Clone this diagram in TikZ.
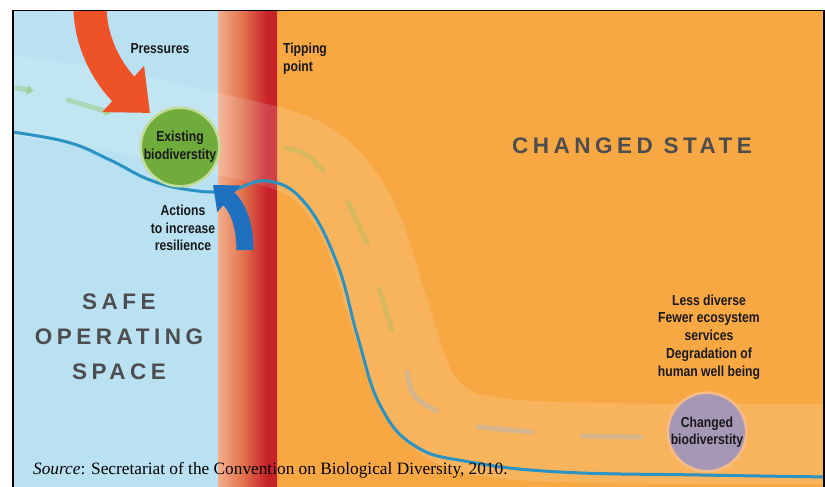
\documentclass[tikz,border=0pt]{standalone}
\usepackage{fontspec}
\setmainfont{Liberation Serif}
\newfontfamily\labelfont[FakeStretch=0.84]{Liberation Sans Bold}
\newfontfamily\statefont[LetterSpace=20]{Liberation Sans Bold}
\usetikzlibrary{arrows.meta}
\definecolor{safeblue}{HTML}{B9E1F1}
\definecolor{changedorange}{HTML}{F8A843}
\definecolor{bandpale}{HTML}{F4AE8C}
\definecolor{bandmid}{HTML}{E27650}
\definecolor{bandred}{HTML}{C8232B}
\definecolor{curveblue}{HTML}{2B92C4}
\definecolor{pressred}{HTML}{EE5327}
\definecolor{actionblue}{HTML}{1F70BE}
\definecolor{biogreen}{HTML}{70AC3B}
\definecolor{biohalo}{HTML}{C2DC9A}
\definecolor{biopurple}{HTML}{A797B6}
\definecolor{purplehalo}{HTML}{F6BC88}
\definecolor{stategrey}{HTML}{4D4D4F}
\definecolor{dashgreen}{HTML}{8FC870}
\definecolor{dasholive}{HTML}{B0BE58}
\definecolor{dashgrey}{HTML}{AEB6C6}
\pgfdeclarehorizontalshading{tipband}{100bp}{color(0bp)=(bandpale); color(25bp)=(bandpale); color(45bp)=(bandmid); color(66bp)=(bandred); color(75bp)=(bandred); color(100bp)=(bandred)}
\tikzset{
  label text/.style={font=\labelfont\fontsize{14.5}{17.5}\selectfont, align=center, text=black!90},
  state text/.style={font=\statefont\fontsize{22.5}{35}\selectfont, align=center, text=stategrey},
  biocircle/.style={circle, minimum size=76pt, inner sep=0pt, line width=2.5pt, label text},
  flowdash/.style={line width=5pt, line cap=round, opacity=0.45},
}
\begin{document}
\begin{tikzpicture}[x=1pt, y=-1pt]
\useasboundingbox (0,0) rectangle (825,487);
\begin{scope}
\clip (13,10.5) rectangle (824,487);
\fill[safeblue] (13,10) rectangle (218,487);
\fill[changedorange] (218,10) rectangle (824,487);
\shade[shading=tipband] (218,10) rectangle (277,487);
\draw[white, opacity=0.14, line width=80pt] plot[smooth, tension=0.6] coordinates {(0,94) (110,110) (200,130) (283,150) (325,174) (360,224) (388,308) (414,385) (448,424) (500,438) (600,443) (840,444)};
\draw[flowdash, dashgreen, -{Triangle[length=7pt,width=10pt]}] (17,88) -- (34,91);
\draw[flowdash, dashgreen, -{Triangle[length=7pt,width=10pt]}] (68,100) -- (112,113);
\draw[flowdash, dasholive] (285,148) .. controls (305,152) .. (323,170);
\draw[flowdash, dasholive] (348,202) -- (367,243);
\draw[flowdash, dasholive] (379,289) -- (392,330);
\draw[flowdash, dashgrey] (407,372) .. controls (412,397) .. (436,411);
\draw[flowdash, dashgrey] (478,427) -- (532,432);
\draw[flowdash, dashgrey] (582,436) -- (640,437);
\draw[curveblue, line width=3pt] plot[smooth, tension=0.7] coordinates {(5,131) (67,142) (110,160) (150,180) (190,190) (228,191) (268,181) (305,203) (337,263) (358,338) (380,405) (415,446) (470,462) (560,472) (700,475) (830,477)};
\node[biocircle, fill=biogreen, draw=biohalo] (existing) at (180,147) {Existing\\biodiverstity};
\node[biocircle, minimum size=74pt, fill=biopurple, draw=purplehalo] (changedbio) at (707,432) {Changed\\biodiverstity};
\coordinate (presstop) at (90,8);
\coordinate (presstip) at (150,113);
\draw[pressred, line width=33pt, -{Triangle[length=36pt,width=60pt]}] (presstop) .. controls (91,55) and (120,86) .. (presstip);
\coordinate (actionbase) at (245,250);
\coordinate (actiontip) at (213,185);
\draw[actionblue, line width=17pt, -{Triangle[length=21pt,width=34pt]}] (actionbase) .. controls (245,222) and (236,205) .. (actiontip);
\end{scope}
\draw[black, line width=1.5pt] (13,487) |- (824,10.5) -- (824,487);
\node[label text] (pressures) at (160,49) {Pressures};
\node[label text, align=left] (tipping) at (305,59) {Tipping\\point};
\node[label text] (actions) at (183,228) {Actions\\to increase\\resilience};
\node[state text] (safe) at (119,337) {SAFE\\OPERATING\\SPACE};
\node[state text] (changed) at (632,146) {CHANGED STATE};
\node[label text, font=\labelfont\fontsize{14.5}{17.8}\selectfont] (consequences) at (709,337) {Less diverse\\Fewer ecosystem\\services\\Degradation of\\human well being};
\node[anchor=base west, inner sep=0pt, font=\fontsize{17.3}{20}\selectfont] (source) at (33,474) {\textit{Source}: Secretariat of the Convention on Biological Diversity, 2010.};
\end{tikzpicture}
\end{document}
